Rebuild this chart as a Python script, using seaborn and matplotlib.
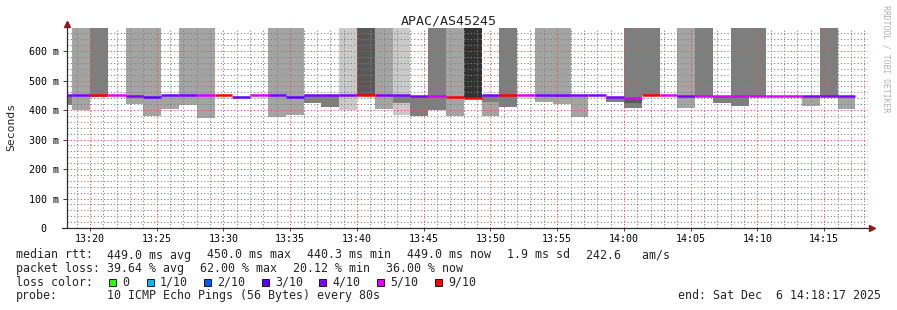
import numpy as np
import pandas as pd
import matplotlib
matplotlib.use("Agg")
import matplotlib.pyplot as plt
from matplotlib.patches import Rectangle
from matplotlib.lines import Line2D
from matplotlib.ticker import FixedLocator
import seaborn as sns

# ------------------------------------------------------------------ data
title = "APAC/AS45245"
ylabel = "Seconds"
watermark = "RRDTOOL / TOBI OETIKER"

# x axis in seconds since 13:00:00
x_start, x_end = 1097, 4697          # 13:18:17 .. 14:18:17
step = 80                            # one probe round every 80 s
first_step_start = 1040              # first (partial) round
y_max = 678

ytick_vals = [0, 100, 200, 300, 400, 500, 600]
ytick_labels = ["0  ", "100 m", "200 m", "300 m", "400 m", "500 m", "600 m"]
xtick_vals = [1200, 1500, 1800, 2100, 2400, 2700, 3000, 3300, 3600, 3900, 4200, 4500]
xtick_labels = ["13:20", "13:25", "13:30", "13:35", "13:40", "13:45",
                "13:50", "13:55", "14:00", "14:05", "14:10", "14:15"]

# median rtt per round (ms)
median = [450, 450, 450, 450, 448, 444, 450, 450, 450, 450, 445, 450, 450, 445, 450,
          450, 450, 450, 450, 450, 449, 449, 445, 442, 450, 450, 450, 450, 450, 450,
          450, 443, 441, 450, 450, 449, 449, 449, 449, 449, 449, 449, 449, 449, 449]
# loss class per round
loss = ["4/10", "4/10", "9/10", "5/10", "4/10", "3/10", "4/10", "4/10", "5/10", "9/10",
        "3/10", "5/10", "4/10", "3/10", "4/10", "4/10", "4/10", "9/10", "4/10", "4/10",
        "4/10", "5/10", "9/10", "9/10", "4/10", "9/10", "5/10", "4/10", "4/10", "4/10",
        "4/10", "4/10", "5/10", "9/10", "5/10", "4/10", "5/10", "5/10", "5/10", "5/10",
        "5/10", "5/10", "4/10", "4/10", "4/10"]
# smoke above the median (shade index, 0 = none), reaching past the top
up_shade = [0, 2, 3, 0, 2, 2, 0, 2, 2, 0, 0, 0, 2, 2, 0,
            0, 1, 4, 2, 1, 0, 3, 2, 5, 0, 3, 0, 2, 2, 0,
            0, 0, 3, 3, 0, 2, 3, 0, 3, 3, 0, 0, 0, 3, 0]
# smoke below the median: first band (median -> lo1_val), second band (lo1_val -> lo2_val)
nan = np.nan
lo1_shade = [3, 2, 3, 0, 2, 2, 2, 2, 2, 0, 0, 0, 2, 2, 3,
             3, 1, 4, 2, 3, 3, 3, 2, 0, 3, 3, 0, 2, 3, 2,
             0, 3, 4, 0, 0, 2, 0, 3, 3, 0, 0, 0, 2, 0, 2]
lo1_val = [418, 401, 444, nan, 421, 380, 404, 418, 374, nan, nan, nan, 377, 383, 425,
           411, 401, 446, 404, 425, 380, 400, 380, nan, 427, 410, nan, 427, 445, 376,
           nan, 427, 423, nan, nan, 408, nan, 425, 413, nan, nan, nan, 413, nan, 403]
lo2_shade = [0, 0, 0, 0, 0, 0, 0, 0, 0, 0, 0, 0, 0, 0, 0,
             0, 0, 0, 0, 1, 0, 0, 0, 0, 2, 0, 0, 0, 2, 0,
             0, 0, 3, 0, 0, 0, 0, 0, 0, 0, 0, 0, 0, 0, 0]
lo2_val = [nan] * 19 + [383] + [nan] * 4 + [380] + [nan] * 3 + [420] + [nan] * 3 + [408] + [nan] * 12

smoke_colors = {1: "#cacaca", 2: "#a4a4a4", 3: "#7e7e7e", 4: "#585858", 5: "#323232"}
loss_labels = ["0", "1/10", "2/10", "3/10", "4/10", "5/10", "9/10"]
loss_colors = ["#26ff00", "#00b8ff", "#0059ff", "#5e00ff", "#7e00ff", "#dd00ff", "#ff0000"]
loss_palette = dict(zip(loss_labels, loss_colors))

stats_rtt = [("median rtt:", 16), ("449.0 ms avg", 107), ("450.0 ms max", 207),
             ("440.3 ms min", 307), ("449.0 ms now", 407), ("1.9 ms sd", 507),
             ("242.6   am/s", 586)]
stats_loss = [("packet loss:", 16), ("39.64 % avg", 107), ("62.00 % max", 200),
              ("20.12 % min", 293), ("36.00 % now", 386)]
probe_text = "10 ICMP Echo Pings (56 Bytes) every 80s"
end_text = "end: Sat Dec  6 14:18:17 2025"

# ------------------------------------------------------------------ figure
sns.set_theme(style="white")
plt.rcParams["font.family"] = ["DejaVu Sans Mono"]
plt.rcParams["lines.scale_dashes"] = False
MONO = "DejaVu Sans Mono"
W, H = 897, 310
fig = plt.figure(figsize=(W / 100, H / 100), dpi=100)
fig.patch.set_facecolor("white")
ax = fig.add_axes([67 / W, 82 / H, 801 / W, 200 / H])
ax.set_facecolor("white")

n = len(median)
starts = first_step_start + step * np.arange(n)
med = np.array(median, dtype=float)

for i in range(n):
    if up_shade[i]:
        ax.bar(starts[i], y_max + 50 - med[i], bottom=med[i], width=step, align="edge",
               color=smoke_colors[up_shade[i]], linewidth=0, zorder=1)
    if lo1_shade[i]:
        ax.bar(starts[i], med[i] - lo1_val[i], bottom=lo1_val[i], width=step, align="edge",
               color=smoke_colors[lo1_shade[i]], linewidth=0, zorder=1)
    if lo2_shade[i]:
        ax.bar(starts[i], lo1_val[i] - lo2_val[i], bottom=lo2_val[i], width=step, align="edge",
               color=smoke_colors[lo2_shade[i]], linewidth=0, zorder=1)

# median line coloured by loss
rows = []
for i in range(n):
    rows.append({"t": starts[i], "med": med[i], "loss": loss[i], "bin": i})
    rows.append({"t": starts[i] + step, "med": med[i], "loss": loss[i], "bin": i})
df = pd.DataFrame(rows)
sns.lineplot(data=df, x="t", y="med", hue="loss", units="bin", estimator=None,
             palette=loss_palette, legend=False, linewidth=1.8, ax=ax, zorder=4,
             solid_capstyle="butt")

ax.set_xlim(x_start, x_end)
ax.set_ylim(0, y_max)
ax.set_xlabel("")
ax.set_ylabel("")

ax.set_xticks(xtick_vals)
ax.set_xticklabels(xtick_labels, fontsize=7.2, family=MONO)
ax.set_yticks(ytick_vals)
ax.set_yticklabels(ytick_labels, fontsize=7.2, family=MONO)
minor_x = [t for t in range(1140, x_end, 60) if t not in xtick_vals]
minor_y = [v for v in range(20, y_max, 20) if v not in ytick_vals]
ax.xaxis.set_minor_locator(FixedLocator(minor_x))
ax.yaxis.set_minor_locator(FixedLocator(minor_y))
ax.tick_params(which="minor", length=0)
ax.tick_params(axis="x", which="major", length=2.2, width=0.7, color="#404040", pad=2.2,
               labelcolor="black", bottom=True)
ax.tick_params(axis="y", which="major", length=2.9, width=0.7, color="#404040", pad=3.2,
               labelcolor="black", left=True)

ax.set_axisbelow(False)
ax.grid(which="minor", color=(0.5, 0.5, 0.5, 0.32), linewidth=0.72,
        linestyle=(0, (0.8, 1.6)))
ax.grid(which="major", color=(1.0, 0.25, 0.25, 0.42), linewidth=0.72,
        linestyle=(0, (0.8, 1.6)))

for s in ax.spines.values():
    s.set_visible(False)

axis_col = "#303030"
ax.add_line(Line2D([-5 / 801, 1.004], [0, 0], transform=ax.transAxes, color=axis_col,
                   lw=0.9, clip_on=False, zorder=5))
ax.add_line(Line2D([0, 0], [0, 1.02], transform=ax.transAxes, color=axis_col,
                   lw=0.9, clip_on=False, zorder=5))
ax.plot([0], [1.02], marker="^", ms=4, color="#8a1a1a", transform=ax.transAxes,
        clip_on=False, zorder=6)
ax.plot([1.005], [0], marker=">", ms=4, color="#8a1a1a", transform=ax.transAxes,
        clip_on=False, zorder=6)

# titles
fig.text(448.5 / W, 1 - 25 / H, title, ha="center", va="baseline", fontsize=9.6, family=MONO)
fig.text(11 / W, 1 - 127 / H, ylabel, ha="center", va="center", rotation=90,
         fontsize=8.2, family=MONO)
fig.text(886 / W, 1 - 59 / H, watermark, ha="center", va="center", rotation=270,
         fontsize=5.9, family=MONO, color="#b0b0b0")

# legend block
FS = 8.4
def put(s, x, base):
    fig.text(x / W, 1 - base / H, s, ha="left", va="baseline", fontsize=FS, family=MONO)

for s, x in stats_rtt:
    put(s, x, 258.5)
for s, x in stats_loss:
    put(s, x, 272.0)
put("loss color:", 16, 285.7)
box_x = [109, 146.5, 204, 261.5, 319, 376.5, 434.5]
for bx, lab, col in zip(box_x, loss_labels, loss_colors):
    fig.add_artist(Rectangle((bx / W, 1 - 285.7 / H), 7 / W, 7 / H, transform=fig.transFigure,
                             facecolor=col, edgecolor="black", linewidth=0.6))
    put(lab, bx + 13.5, 285.7)
put("probe:", 16, 299.3)
put(probe_text, 107, 299.3)
fig.text(881 / W, 1 - 299.3 / H, end_text, ha="right", va="baseline", fontsize=FS, family=MONO)

fig.savefig("out.png", dpi=100, facecolor="white")
